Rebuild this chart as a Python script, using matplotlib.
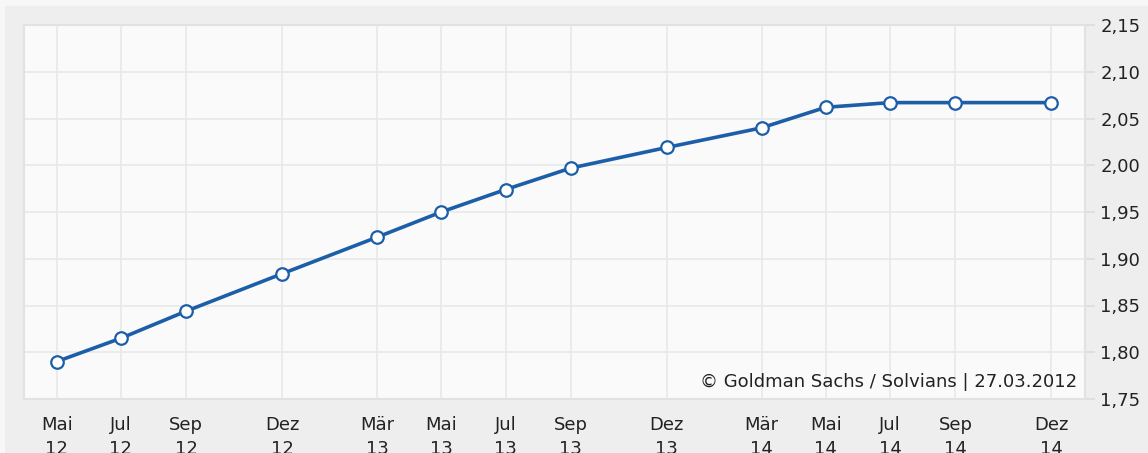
import matplotlib
matplotlib.use("Agg")
import matplotlib.pyplot as plt
import matplotlib.dates as mdates
from matplotlib.ticker import FixedLocator, FuncFormatter
from matplotlib.patches import Rectangle
import datetime as dt

# data
dates = ["2012-05", "2012-07", "2012-09", "2012-12", "2013-03", "2013-05", "2013-07",
         "2013-09", "2013-12", "2014-03", "2014-05", "2014-07", "2014-09", "2014-12"]
tick_labels = ["Mai\n12", "Jul\n12", "Sep\n12", "Dez\n12", "Mär\n13", "Mai\n13", "Jul\n13",
               "Sep\n13", "Dez\n13", "Mär\n14", "Mai\n14", "Jul\n14", "Sep\n14", "Dez\n14"]
values = [1.790, 1.815, 1.844, 1.884, 1.923, 1.950, 1.974,
          1.997, 2.019, 2.040, 2.062, 2.067, 2.067, 2.067]
yticks = [1.75, 1.80, 1.85, 1.90, 1.95, 2.00, 2.05, 2.10, 2.15]

x = [dt.datetime.strptime(d, "%Y-%m") for d in dates]

plt.rcParams['font.family'] = ['DejaVu Sans']

fig = plt.figure(figsize=(11.48, 4.53), dpi=100)
fig.patch.set_facecolor("#f7f7f7")
# inner grey panel (light strip on top/left edge)
fig.add_artist(Rectangle((5/1148, 0), 1, 1 - 6/453, transform=fig.transFigure,
                         facecolor="#eeeeee", edgecolor="none", zorder=0))

ax = fig.add_axes([24/1148, 1-399/453, (1085-24)/1148, (399-25)/453])
ax.set_facecolor("#fafafa")

ax.plot(x, values, color="#1c5ea8", lw=2.6, marker="o", ms=9,
        mfc="white", mec="#1c5ea8", mew=1.6, zorder=3)

xnum = mdates.date2num(x)
ax.set_xlim(xnum[0] - 31, xnum[-1] + 32)
ax.set_ylim(1.75, 2.15)
ax.xaxis.set_major_locator(FixedLocator(xnum))
ax.set_xticklabels(tick_labels, linespacing=1.45)
ax.set_yticks(yticks)
ax.yaxis.set_major_formatter(FuncFormatter(lambda v, p: ("%.2f" % v).replace(".", ",")))
ax.yaxis.tick_right()

ax.grid(True, color="#e8e8e8", lw=1.2)
ax.tick_params(axis="x", length=0, pad=12, labelsize=13, colors="#222222")
ax.tick_params(axis="y", length=7, width=1.2, color="#dddddd", pad=4, labelsize=13,
               labelcolor="#222222")
for s in ax.spines.values():
    s.set_color("#e2e2e2")
    s.set_linewidth(1.5)

ax.text(0.993, 0.045, "\u00a9 Goldman Sachs / Solvians | 27.03.2012", transform=ax.transAxes,
        ha="right", va="center", fontsize=13, color="#222222")

fig.savefig("out.png", dpi=100, facecolor=fig.get_facecolor())
